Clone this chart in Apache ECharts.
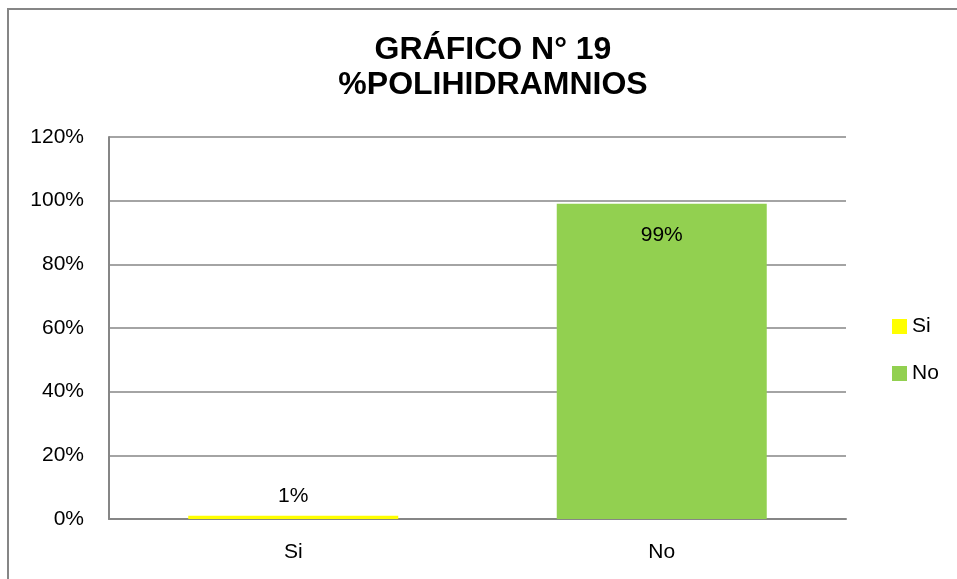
<!DOCTYPE html>
<html lang="en">
    <head>
        <meta charset="UTF-8" />
        <title>Gráfico 19 - Polihidramnios</title>
        <script src="https://cdn.jsdelivr.net/npm/echarts@6/dist/echarts.min.js"></script>
    </head>
    <body style="margin: 0">
        <!-- Chart container -->
        <div id="main" style="width: 957px; height: 579px"></div>

        <script>
            // Data
            const categories = ["Si", "No"];
            const values = [1, 99];
            const colors = ["#FFFF00", "#92D050"];
            const yTicks = [0, 20, 40, 60, 80, 100, 120];

            const myChart = echarts.init(document.getElementById("main"));
            const font = "'Liberation Sans', Arial, sans-serif";

            // one series per category so the legend shows Si / No
            const series = categories.map((name, i) => ({
                name: name,
                type: "bar",
                stack: "all",
                barWidth: 210,
                itemStyle: { color: colors[i] },
                data: categories.map((c, j) => (j === i ? values[i] : null)),
                label: {
                    show: true,
                    position: values[i] > 10 ? "insideTop" : "top",
                    distance: values[i] > 10 ? 21 : 9,
                    formatter: (p) => p.value + "%",
                    color: "#000",
                    fontFamily: font,
                    fontSize: 21
                }
            }));

            const options = {
                animation: false,
                title: {
                    text: "GRÁFICO N° 19\n%POLIHIDRAMNIOS",
                    left: 488,
                    top: 28,
                    textAlign: "center",
                    textStyle: {
                        fontFamily: font,
                        fontWeight: "bold",
                        fontSize: 32,
                        lineHeight: 35,
                        color: "#000"
                    }
                },
                legend: {
                    orient: "vertical",
                    left: 887,
                    top: 311,
                    itemWidth: 15,
                    itemHeight: 15,
                    itemGap: 26,
                    icon: "rect",
                    textStyle: { fontFamily: font, fontSize: 21, color: "#000" }
                },
                grid: { left: 109, right: 111, top: 137, bottom: 60, containLabel: false },
                xAxis: {
                    type: "category",
                    data: categories,
                    axisLine: { lineStyle: { color: "#868686", width: 2 } },
                    axisTick: { show: false },
                    axisLabel: { fontFamily: font, fontSize: 21, color: "#000", margin: 23 }
                },
                yAxis: {
                    type: "value",
                    min: yTicks[0],
                    max: yTicks[yTicks.length - 1],
                    interval: 20,
                    axisLine: { show: true, lineStyle: { color: "#868686", width: 2 } },
                    axisTick: { show: false },
                    splitLine: { lineStyle: { color: "#868686", width: 1.5 } },
                    axisLabel: {
                        fontFamily: font,
                        fontSize: 21,
                        color: "#000",
                        margin: 25,
                        formatter: (v) => v + "%"
                    }
                },
                graphic: [
                    {
                        type: "rect",
                        shape: { x: 8, y: 9, width: 1000, height: 700 },
                        style: { fill: "none", stroke: "#868686", lineWidth: 2 },
                        silent: true
                    }
                ],
                series: series
            };

            myChart.setOption(options);
        </script>
    </body>
</html>
